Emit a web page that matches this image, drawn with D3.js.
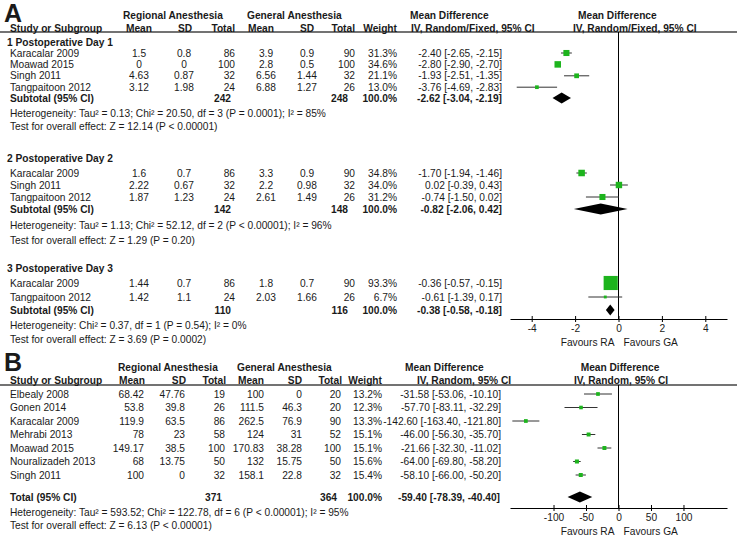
<!DOCTYPE html>
<html>
<head>
<meta charset="utf-8">
<script src="https://cdn.jsdelivr.net/npm/d3@7"></script>
<style>
  body { margin: 0; background: #fff; }
  svg { display: block; }
  text { font-family: Arial, "Liberation Sans", sans-serif; font-size: 10.2px; fill: #1a1a1a; }
</style>
</head>
<body>
<svg width="737" height="540"></svg>
<script>
// ---- panel A data (postoperative pain, by day) ----
const aGroups = ["1 Postoperative Day 1", "2 Postoperative Day 2", "3 Postoperative Day 3"];
const aGroup = [0, 0, 0, 0, 1, 1, 1, 2, 2];
const aStudy = ["Karacalar 2009", "Moawad 2015", "Singh 2011", "Tangpaitoon 2012",
  "Karacalar 2009", "Singh 2011", "Tangpaitoon 2012",
  "Karacalar 2009", "Tangpaitoon 2012"];
const aRaMean = [1.5, 0, 4.63, 3.12, 1.6, 2.22, 1.87, 1.44, 1.42];
const aRaSd = [0.8, 0, 0.87, 1.98, 0.7, 0.67, 1.23, 0.7, 1.1];
const aRaN = [86, 100, 32, 24, 86, 32, 24, 86, 24];
const aGaMean = [3.9, 2.8, 6.56, 6.88, 3.3, 2.2, 2.61, 1.8, 2.03];
const aGaSd = [0.9, 0.5, 1.44, 1.27, 0.9, 0.98, 1.49, 0.7, 1.66];
const aGaN = [90, 100, 32, 26, 90, 32, 26, 90, 26];
const aWeight = [31.3, 34.6, 21.1, 13.0, 34.8, 34.0, 31.2, 93.3, 6.7];
const aMd = [-2.40, -2.80, -1.93, -3.76, -1.70, 0.02, -0.74, -0.36, -0.61];
const aLo = [-2.65, -2.90, -2.51, -4.69, -1.94, -0.39, -1.50, -0.57, -1.39];
const aHi = [-2.15, -2.70, -1.35, -2.83, -1.46, 0.43, 0.02, -0.15, 0.17];
const aSubRaN = [242, 142, 110];
const aSubGaN = [248, 148, 116];
const aSubMd = [-2.62, -0.82, -0.38];
const aSubLo = [-3.04, -2.06, -0.58];
const aSubHi = [-2.19, 0.42, -0.18];
const aHet = [
  "Heterogeneity: Tau² = 0.13; Chi² = 20.50, df = 3 (P = 0.0001); I² = 85%",
  "Heterogeneity: Tau² = 1.13; Chi² = 52.12, df = 2 (P < 0.00001); I² = 96%",
  "Heterogeneity: Chi² = 0.37, df = 1 (P = 0.54); I² = 0%"];
const aTest = [
  "Test for overall effect: Z = 12.14 (P < 0.00001)",
  "Test for overall effect: Z = 1.29 (P = 0.20)",
  "Test for overall effect: Z = 3.69 (P = 0.0002)"];
const aTicks = [-4, -2, 0, 2, 4];

// ---- panel B data ----
const bStudy = ["Elbealy 2008", "Gonen 2014", "Karacalar 2009", "Mehrabi 2013",
  "Moawad 2015", "Nouralizadeh 2013", "Singh 2011"];
const bRaMean = [68.42, 53.8, 119.9, 78, 149.17, 68, 100];
const bRaSd = [47.76, 39.8, 63.5, 23, 38.5, 13.75, 0];
const bRaN = [19, 26, 86, 58, 100, 50, 32];
const bGaMean = [100, 111.5, 262.5, 124, 170.83, 132, 158.1];
const bGaSd = [0, 46.3, 76.9, 31, 38.28, 15.75, 22.8];
const bGaN = [20, 20, 90, 52, 100, 50, 32];
const bWeight = [13.2, 12.3, 13.3, 15.1, 15.1, 15.6, 15.4];
const bMd = [-31.58, -57.70, -142.60, -46.00, -21.66, -64.00, -58.10];
const bLo = [-53.06, -83.11, -163.40, -56.30, -32.30, -69.80, -66.00];
const bHi = [-10.10, -32.29, -121.80, -35.70, -11.02, -58.20, -50.20];
const bTotRaN = 371, bTotGaN = 364;
const bTotMd = -59.40, bTotLo = -78.39, bTotHi = -40.40;
const bHet = "Heterogeneity: Tau² = 593.52; Chi² = 122.78, df = 6 (P < 0.00001); I² = 95%";
const bTest = "Test for overall effect: Z = 6.13 (P < 0.00001)";
const bTicks = [-100, -50, 0, 50, 100];

const GREEN = "#1db41d";
const svg = d3.select("svg");

const xA = d3.scaleLinear().domain([-5, 5]).range([510, 727]);
const xB = d3.scaleLinear().domain([-167, 167]).range([510, 727]);
const boxSize = d3.scaleLinear().domain([0, 100]).range([2, 15]);

function f2(v) { return v.toFixed(2); }
function ciText(md, lo, hi) { return f2(md) + " [" + f2(lo) + ", " + f2(hi) + "]"; }

function txt(x, y, s, anchor, bold) {
  const t = svg.append("text")
    .attr("x", x).attr("y", y).attr("dy", "0.35em")
    .attr("text-anchor", anchor || "start")
    .text(s);
  if (bold) t.style("font-weight", "bold");
  return t;
}

function study(x, y, md, lo, hi, w) {
  svg.append("line")
    .attr("x1", x(lo)).attr("x2", x(hi)).attr("y1", y).attr("y2", y)
    .attr("stroke", "#333").attr("stroke-width", 1);
  const s = boxSize(w);
  svg.append("rect")
    .attr("x", x(md) - s / 2).attr("y", y - s / 2)
    .attr("width", s).attr("height", s)
    .attr("fill", GREEN);
}

function diamond(x, y, md, lo, hi) {
  const h = 5.5;
  svg.append("path")
    .attr("d", `M${x(lo)},${y}L${x(md)},${y - h}L${x(hi)},${y}L${x(md)},${y + h}Z`)
    .attr("fill", "#000");
}

function axis(x, ticks, y, top) {
  svg.append("line")
    .attr("x1", x(0)).attr("x2", x(0)).attr("y1", top).attr("y2", y)
    .attr("stroke", "#000");
  const g = svg.append("g")
    .attr("transform", `translate(0,${y})`)
    .call(d3.axisBottom(x).tickValues(ticks).tickSize(3).tickSizeOuter(0).tickFormat(d => String(d)));
  g.attr("font-size", null).attr("font-family", null);
  g.select(".domain").attr("stroke", "#000");
  g.selectAll(".tick line").attr("y1", -3).attr("stroke", "#000");
  g.selectAll(".tick text").attr("y", 6).style("font-size", "10.2px");
  txt(x(0) - 4, y + 23, "Favours RA", "end");
  txt(x(0) + 5, y + 23, "Favours GA", "start");
}

function panelLetter(letter, baseline) {
  svg.append("text")
    .attr("x", 4).attr("y", baseline)
    .style("font-weight", "bold").style("font-size", "25px")
    .text(letter);
}

function rule(y) {
  svg.append("line")
    .attr("x1", 0).attr("x2", 737).attr("y1", y).attr("y2", y)
    .attr("stroke", "#444").attr("stroke-width", 1.5);
}

// ================= Panel A =================
panelLetter("A", 22);
rule(32);
txt(123, 15, "Regional Anesthesia", "start", true);
txt(247, 15, "General Anesthesia", "start", true);
txt(410, 15, "Mean Difference", "start", true);
txt(578, 15, "Mean Difference", "start", true);
txt(10, 28, "Study or Subgroup", "start", true);
txt(139, 28, "Mean", "middle", true);
txt(185, 28, "SD", "middle", true);
txt(235, 28, "Total", "end", true);
txt(261, 28, "Mean", "middle", true);
txt(307, 28, "SD", "middle", true);
txt(355, 28, "Total", "end", true);
txt(397, 28, "Weight", "end", true);
txt(411, 28, "IV, Random/Fixed, 95% CI", "start", true);
txt(573, 28, "IV, Random/Fixed, 95% CI", "start", true);

// row layout per subgroup: header y, first study y, study step, subtotal y, het y, test y
const aLayout = [
  { head: 42, first: 53, step: 11.4, sub: 98, het: 113, test: 126 },
  { head: 158, first: 173, step: 12, sub: 209, het: 225, test: 240 },
  { head: 268, first: 283, step: 14, sub: 310, het: 325, test: 339 }];

axis(xA, aTicks, 319, 32);

aGroups.forEach((name, gi) => {
  const L = aLayout[gi];
  txt(7, L.head, name, "start", true);
  const idx = d3.range(aStudy.length).filter(i => aGroup[i] === gi);
  idx.forEach((i, k) => {
    const y = L.first + k * L.step;
    txt(10, y, aStudy[i]);
    txt(139, y, String(aRaMean[i]), "middle");
    txt(184, y, String(aRaSd[i]), "middle");
    txt(235, y, String(aRaN[i]), "end");
    txt(266, y, String(aGaMean[i]), "middle");
    txt(307, y, String(aGaSd[i]), "middle");
    txt(355, y, String(aGaN[i]), "end");
    txt(397, y, aWeight[i].toFixed(1) + "%", "end");
    txt(502, y, ciText(aMd[i], aLo[i], aHi[i]), "end");
    study(xA, y, aMd[i], aLo[i], aHi[i], aWeight[i]);
  });
  txt(10, L.sub, "Subtotal (95% CI)", "start", true);
  txt(231, L.sub, String(aSubRaN[gi]), "end", true);
  txt(348, L.sub, String(aSubGaN[gi]), "end", true);
  txt(397, L.sub, "100.0%", "end", true);
  txt(502, L.sub, ciText(aSubMd[gi], aSubLo[gi], aSubHi[gi]), "end", true);
  diamond(xA, L.sub, aSubMd[gi], aSubLo[gi], aSubHi[gi]);
  txt(10, L.het, aHet[gi]);
  txt(10, L.test, aTest[gi]);
});

// ================= Panel B =================
panelLetter("B", 371);
rule(385);
txt(118, 367, "Regional Anesthesia", "start", true);
txt(237, 367, "General Anesthesia", "start", true);
txt(405, 367, "Mean Difference", "start", true);
txt(620, 367, "Mean Difference", "middle", true);
txt(10, 380, "Study or Subgroup", "start", true);
txt(145, 380, "Mean", "end", true);
txt(186, 380, "SD", "end", true);
txt(226, 380, "Total", "end", true);
txt(264, 380, "Mean", "end", true);
txt(302, 380, "SD", "end", true);
txt(342, 380, "Total", "end", true);
txt(382, 380, "Weight", "end", true);
txt(417, 380, "IV, Random, 95% CI", "start", true);
txt(621, 380, "IV, Random, 95% CI", "middle", true);

axis(xB, bTicks, 508, 385);

const bFirst = 394, bStep = 13.5;
bStudy.forEach((name, i) => {
  const y = bFirst + i * bStep;
  txt(10, y, name);
  txt(144, y, String(bRaMean[i]), "end");
  txt(185, y, String(bRaSd[i]), "end");
  txt(225, y, String(bRaN[i]), "end");
  txt(264, y, String(bGaMean[i]), "end");
  txt(302, y, String(bGaSd[i]), "end");
  txt(341, y, String(bGaN[i]), "end");
  txt(382, y, bWeight[i].toFixed(1) + "%", "end");
  txt(501, y, ciText(bMd[i], bLo[i], bHi[i]), "end");
  study(xB, y, bMd[i], bLo[i], bHi[i], bWeight[i]);
});
txt(10, 497, "Total (95% CI)", "start", true);
txt(222, 497, String(bTotRaN), "end", true);
txt(337, 497, String(bTotGaN), "end", true);
txt(382, 497, "100.0%", "end", true);
txt(500, 497, ciText(bTotMd, bTotLo, bTotHi), "end", true);
diamond(xB, 497, bTotMd, bTotLo, bTotHi);
txt(10, 512, bHet);
txt(10, 525, bTest);
</script>
</body>
</html>
